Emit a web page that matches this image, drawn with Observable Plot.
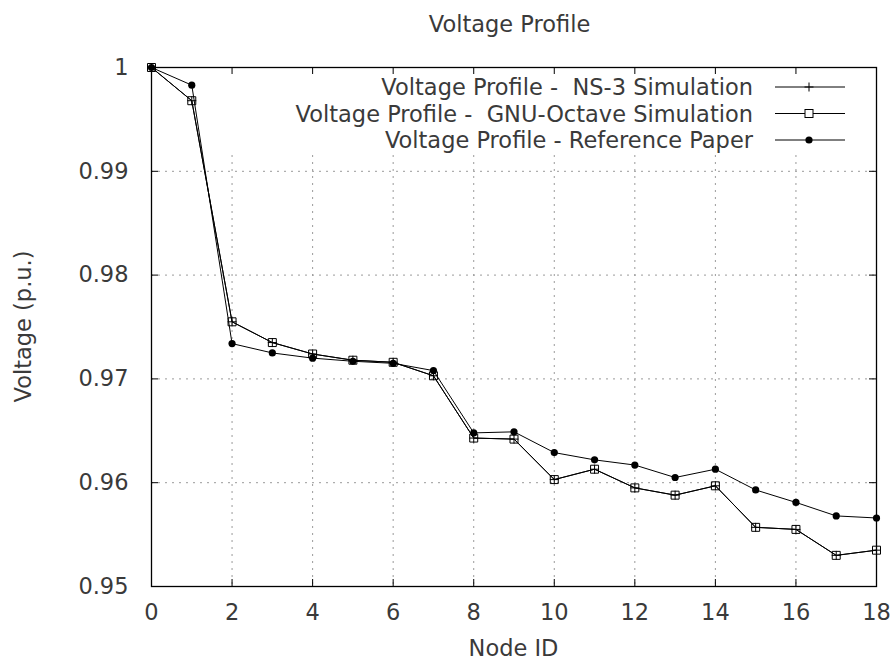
<!DOCTYPE html>
<html>
<head>
<meta charset="utf-8">
<script src="https://cdn.jsdelivr.net/npm/d3@7"></script>
<script src="https://cdn.jsdelivr.net/npm/@observablehq/plot@0.6"></script>
<style>
  html, body { margin: 0; padding: 0; background: #fff; }
  #wrap { position: relative; width: 895px; height: 668px; font-family: "DejaVu Sans", sans-serif; }
  #wrap svg { position: absolute; left: 0; top: 0; }
  #overlay { pointer-events: none; }
  #overlay text { white-space: pre; }
</style>
</head>
<body>
<div id="wrap"></div>
<script>
// ---- data ----
const nodeIds = [0, 1, 2, 3, 4, 5, 6, 7, 8, 9, 10, 11, 12, 13, 14, 15, 16, 17, 18];
const ns3Voltage = [1.0000, 0.9968, 0.9755, 0.9735, 0.9724, 0.9718, 0.9716, 0.9703, 0.9643, 0.9642, 0.9603, 0.9613, 0.9595, 0.9588, 0.9597, 0.9557, 0.9555, 0.9530, 0.9535];
const octaveVoltage = [1.0000, 0.9968, 0.9755, 0.9735, 0.9724, 0.9718, 0.9716, 0.9703, 0.9643, 0.9642, 0.9603, 0.9613, 0.9595, 0.9588, 0.9597, 0.9557, 0.9555, 0.9530, 0.9535];
const refVoltage = [1.0000, 0.9983, 0.9734, 0.9725, 0.9720, 0.9717, 0.9715, 0.9708, 0.9648, 0.9649, 0.9629, 0.9622, 0.9617, 0.9605, 0.9613, 0.9593, 0.9581, 0.9568, 0.9566];
const seriesNames = ["Voltage Profile -  NS-3 Simulation", "Voltage Profile -  GNU-Octave Simulation", "Voltage Profile - Reference Paper"];
const xTicks = [0, 2, 4, 6, 8, 10, 12, 14, 16, 18];
const yTicks = [0.95, 0.96, 0.97, 0.98, 0.99, 1.0];
const titleText = "Voltage Profile";
const xLabel = "Node ID";
const yLabel = "Voltage (p.u.)";

const toRows = (vals) => nodeIds.map((n, i) => ({node: n, v: vals[i]}));
const ns3 = toRows(ns3Voltage);
const octave = toRows(octaveVoltage);
const ref = toRows(refVoltage);

const W = 895, H = 668;
const mL = 151, mR = 19, mT = 67, mB = 82;
const plotH = H - mT - mB;
const tick = 7;
const keyBottom = 88; // px from top of frame where the key box ends
const gridX = xTicks.slice(1, -1);
const gridY = yTicks.slice(1, -1);
const gridStyle = {stroke: "#9a9a9a", strokeWidth: 1, strokeDasharray: "2,5"};
const textColor = "#3a3a3a";
const fs = 22.5;

const chart = Plot.plot({
  width: W, height: H,
  marginLeft: mL, marginRight: mR, marginTop: mT, marginBottom: mB,
  style: {fontFamily: "DejaVu Sans, sans-serif", fontSize: fs + "px", color: textColor, background: "white"},
  x: {domain: [0, 18]},
  y: {domain: [0.95, 1.0]},
  marks: [
    Plot.ruleY(gridY, {...gridStyle}),
    Plot.ruleX(gridX, {...gridStyle, insetTop: keyBottom}),
    // inward ticks on all four sides
    Plot.ruleX(xTicks, {stroke: "black", insetTop: plotH - tick}),
    Plot.ruleX(xTicks, {stroke: "black", insetBottom: plotH - tick}),
    Plot.ruleY(yTicks, {stroke: "black", insetRight: (W - mL - mR) - tick}),
    Plot.ruleY(yTicks, {stroke: "black", insetLeft: (W - mL - mR) - tick}),
    Plot.axisX({ticks: xTicks, tickSize: 0, tickPadding: 18, label: null, fontSize: fs, fill: textColor, tickFormat: d => String(d)}),
    Plot.axisY({ticks: yTicks, tickSize: 0, tickPadding: 23, label: null, fontSize: fs, fill: textColor, tickFormat: d => String(+d.toFixed(2))}),
    // series
    Plot.line(ns3, {x: "node", y: "v", stroke: "black", strokeWidth: 1}),
    Plot.dot(ns3, {x: "node", y: "v", symbol: "plus", r: 3, stroke: "black", fill: "none", strokeWidth: 1}),
    Plot.line(octave, {x: "node", y: "v", stroke: "black", strokeWidth: 1}),
    Plot.dot(octave, {x: "node", y: "v", symbol: "square", r: 4.5, stroke: "black", fill: "none", strokeWidth: 1}),
    Plot.line(ref, {x: "node", y: "v", stroke: "black", strokeWidth: 1}),
    Plot.dot(ref, {x: "node", y: "v", symbol: "circle", r: 3.6, fill: "black", stroke: "none"}),
    Plot.frame({stroke: "black", strokeWidth: 1.3})
  ]
});
document.getElementById("wrap").appendChild(chart);

// ---- overlay: title, axis labels, key ----
const ov = d3.select("#wrap").append("svg")
  .attr("id", "overlay").attr("width", W).attr("height", H)
  .attr("font-family", "DejaVu Sans, sans-serif").attr("font-size", fs).attr("fill", textColor);
const cx = mL + (W - mL - mR) / 2;
ov.append("text").attr("x", cx - 4).attr("y", 32).attr("text-anchor", "middle").text(titleText);
ov.append("text").attr("x", cx).attr("y", 656).attr("text-anchor", "middle").text(xLabel);
ov.append("text").attr("transform", `translate(31,${mT + plotH / 2}) rotate(-90)`).attr("text-anchor", "middle").text(yLabel);

const keyRows = [87, 113.5, 140];
const keyTextRight = 753, keyL1 = 775, keyL2 = 845, keyMark = 809;
seriesNames.forEach((name, i) => {
  const y = keyRows[i];
  ov.append("text").attr("x", keyTextRight).attr("y", y).attr("dy", "0.36em").attr("text-anchor", "end")
    .attr("xml:space", "preserve").text(name);
  ov.append("line").attr("x1", keyL1).attr("x2", keyL2).attr("y1", y).attr("y2", y).attr("stroke", "black");
});
// key symbols
const r0 = keyRows[0];
ov.append("path").attr("d", `M${keyMark - 4.5},${r0}H${keyMark + 4.5}M${keyMark},${r0 - 4.5}V${r0 + 4.5}`).attr("stroke", "black").attr("fill", "none");
ov.append("rect").attr("x", keyMark - 4).attr("y", keyRows[1] - 4).attr("width", 8).attr("height", 8).attr("stroke", "black").attr("fill", "white");
ov.append("circle").attr("cx", keyMark).attr("cy", keyRows[2]).attr("r", 3.6).attr("fill", "black");
</script>
</body>
</html>
